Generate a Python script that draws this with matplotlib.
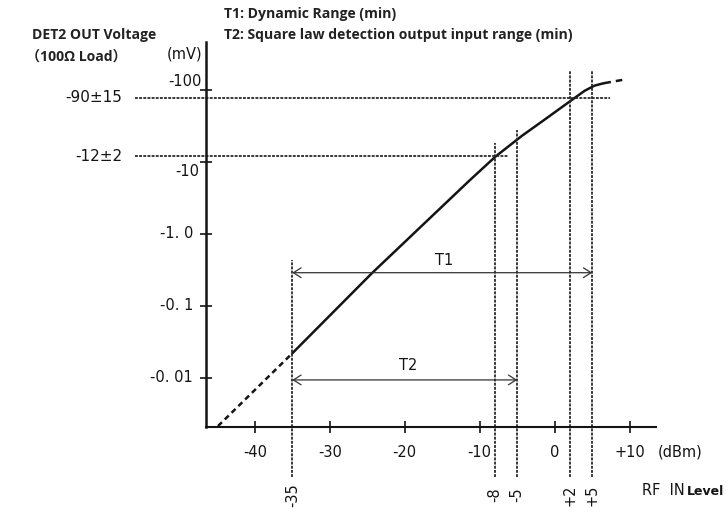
import matplotlib
matplotlib.use('Agg')
import matplotlib.pyplot as plt
import matplotlib.transforms as mtransforms
from matplotlib.ticker import NullLocator

# ---------------- data ----------------
rf_in_dbm = [-44.9, -35.0, -24.4, -11.3, -7.9, -4.4, -1.1, 2.4, 4.0, 5.3, 6.5, 9.0]
det_out_mv = [0.00215, 0.022, 0.284, 5.62, 11.9, 23.0, 40.5, 74.3, 97.7, 115, 124, 138]

x_ticks = [-40, -30, -20, -10, 0, 10]
x_tick_labels = ['-40', '-30', '-20', '-10', '0', '+10']
y_ticks = [100, 10, 1.0, 0.1, 0.01]
y_tick_labels = ['-100', '-10', '-1. 0', '-0. 1', '-0. 01']

marker_dbm = [-35, -8, -5, 2, 5]
marker_labels = ['-35', '-8', '-5', '+2', '+5']
marker_top_mv = [0.435, 18.4, 27.8, 190, 190]

level_mv = [77.6, 12.1]
level_labels = ['-90±15', '-12±2']
level_end_dbm = [7.3, -6.3]

t1_range = [-35, 5]
t1_mv = 0.29
t2_range = [-35, -5]
t2_mv = 0.0094

# ---------------- figure ----------------
W, H = 726, 512
fig = plt.figure(figsize=(W / 100, H / 100), dpi=100)
ax = fig.add_axes([206 / W, 1 - 427 / H, 450 / W, 385 / H])
ax.set_yscale('log')
ax.set_xlim(-46.5, 13.5)
ymin = 10 ** (2 - 337 / 72)
ymax = 10 ** (2 + 48 / 72)
ax.set_ylim(ymin, ymax)

ink = '#141414'
for s in ['top', 'right']:
    ax.spines[s].set_visible(False)
ax.spines['left'].set_linewidth(1.8)
ax.spines['bottom'].set_linewidth(1.5)
ax.spines['left'].set_color(ink)
ax.spines['bottom'].set_color(ink)

tick_font = dict(family='DejaVu Sans', size=10.5, color=ink)

ax.set_xticks(x_ticks)
ax.set_xticklabels(x_tick_labels, **tick_font)
ax.tick_params(axis='x', direction='inout', length=8, width=1.2, pad=9, colors=ink)
ax.set_yticks(y_ticks)
ax.set_yticklabels([''] * len(y_ticks))
ax.yaxis.set_minor_locator(NullLocator())
ax.tick_params(axis='y', direction='inout', length=8, width=1.2, colors=ink)

# y tick labels placed as text (with the datasheet's staggered offsets)
ytrans = ax.get_yaxis_transform()
offsets = {0: (-4 / 100, 9 / 100), 1: (-7 / 100, -9 / 100)}
for i, (v, lab) in enumerate(zip(y_ticks, y_tick_labels)):
    dx, dy = offsets.get(i, (-13 / 100, 0))
    tr = ytrans + mtransforms.ScaledTranslation(dx, dy, fig.dpi_scale_trans)
    ax.text(0, v, lab, transform=tr, ha='right', va='center', **tick_font)

# ---------------- curve ----------------
ax.plot(rf_in_dbm[1:11], det_out_mv[1:11], color=ink, lw=1.8, solid_capstyle='round')
ax.plot(rf_in_dbm[0:2], det_out_mv[0:2], color=ink, lw=1.8, ls=(0, (2.2, 1.6)))
ax.plot(rf_in_dbm[10:12], det_out_mv[10:12], color=ink, lw=1.8, ls=(0, (3, 2)))

# ---------------- level lines ----------------
dot_style = dict(color='#2a2a2a', lw=1.3, ls=(0, (1.6, 0.7)), clip_on=False)
x_left = -56
for lv, lab, xe in zip(level_mv, level_labels, level_end_dbm):
    ax.plot([x_left, xe], [lv, lv], **dot_style)
    ax.text(x_left - 1.7, lv, lab, ha='right', va='center',
            family='DejaVu Sans', size=11, color=ink)

# ---------------- vertical markers ----------------
y_below = 10 ** (2 - 387 / 72)
y_lbl = 10 ** (2 - 405 / 72)
for m, lab, top in zip(marker_dbm, marker_labels, marker_top_mv):
    ax.plot([m, m], [y_below, top], **dot_style)
    ax.text(m, y_lbl, lab, rotation=90, ha='center', va='center', **tick_font)

# ---------------- range arrows ----------------
for rng, lvl, lab, lx, ly in [(t1_range, t1_mv, 'T1', -14.7, 0.435),
                              (t2_range, t2_mv, 'T2', -19.6, 0.0147)]:
    ax.annotate('', xy=(rng[0], lvl), xytext=(rng[1], lvl),
                arrowprops=dict(arrowstyle='<->,head_length=0.55,head_width=0.35',
                                lw=0.9, color='#333333', shrinkA=0, shrinkB=0,
                                mutation_scale=10))
    ax.text(lx, ly, lab, ha='center', va='center', **tick_font)

# ---------------- annotations ----------------
def px(x, y):
    return x / W, 1 - y / H

title_font = dict(family=['Open Sans', 'Noto Sans CJK JP', 'DejaVu Sans'],
                  weight='bold', size=10.1, color='#222222')
fig.text(*px(224, 14), 'T1: Dynamic Range (min)', ha='left', va='center', **title_font)
fig.text(*px(224, 35), 'T2: Square law detection output input range (min)',
         ha='left', va='center', **title_font)
fig.text(*px(32, 35), 'DET2 OUT Voltage', ha='left', va='center', **title_font)
fig.text(*px(26, 57), '（100Ω Load）', ha='left', va='center', **title_font)
fig.text(*px(185, 54), '(mV)', ha='center', va='center', **tick_font)
fig.text(*px(658, 452), '(dBm)', ha='left', va='center', **tick_font)
fig.text(*px(642, 495), 'RF  IN', ha='left', va='baseline', **tick_font)
fig.text(*px(687, 495), 'Level', ha='left', va='baseline',
         family='DejaVu Sans', weight='bold', size=9, color=ink)

fig.savefig('out.png', dpi=100)
